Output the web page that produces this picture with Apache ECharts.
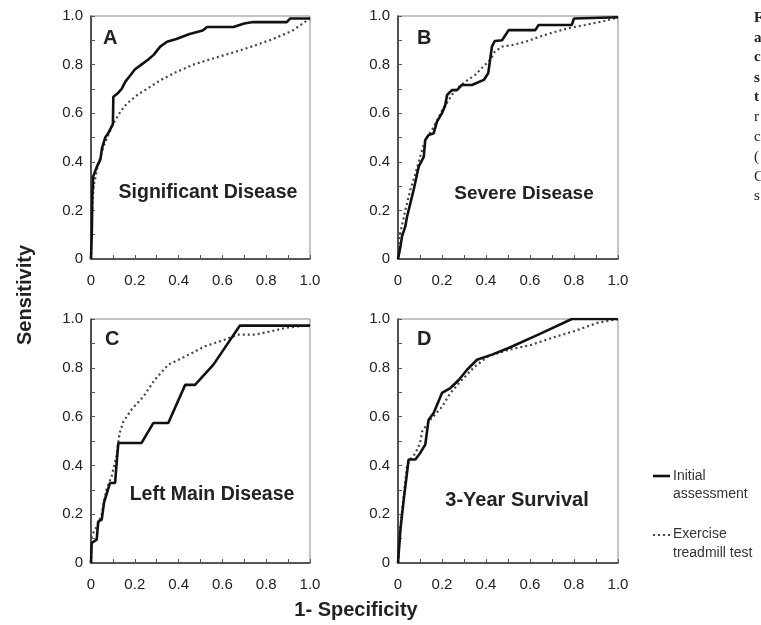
<!DOCTYPE html>
<html>
<head>
<meta charset="utf-8">
<script src="https://cdn.jsdelivr.net/npm/echarts@6/dist/echarts.min.js"></script>
<style>html,body{margin:0;padding:0;background:#fff;}#c{width:761px;height:625px;}</style>
</head>
<body>
<div id="c"></div>
<script>
// ---- Data (x = 1 - specificity, y = sensitivity) ----
var panelTitles = ['Significant Disease', 'Severe Disease', 'Left Main Disease', '3-Year Survival'];
var panelLetters = ['A', 'B', 'C', 'D'];
var seriesNames = ['Initial assessment', 'Exercise treadmill test'];
var tickValues = ['0', '0.2', '0.4', '0.6', '0.8', '1.0'];

var sigInitial = [[0,0],[0.004,0.12],[0.006,0.26],[0.01,0.34],[0.027,0.38],[0.043,0.41],[0.05,0.455],[0.065,0.50],[0.08,0.52],[0.10,0.555],[0.102,0.668],[0.12,0.68],[0.14,0.70],[0.157,0.73],[0.18,0.756],[0.20,0.78],[0.23,0.80],[0.26,0.82],[0.286,0.84],[0.316,0.874],[0.347,0.894],[0.39,0.905],[0.45,0.926],[0.51,0.94],[0.53,0.955],[0.65,0.955],[0.70,0.969],[0.74,0.975],[0.894,0.975],[0.91,0.99],[1.0,0.99]];
var sigTreadmill = [[0,0],[0.005,0.2],[0.012,0.30],[0.03,0.38],[0.06,0.47],[0.10,0.555],[0.134,0.606],[0.164,0.64],[0.21,0.674],[0.255,0.70],[0.316,0.735],[0.39,0.77],[0.468,0.80],[0.56,0.826],[0.65,0.85],[0.74,0.876],[0.83,0.905],[0.92,0.94],[1.0,0.99]];

var sevInitial = [[0,0],[0.011,0.05],[0.018,0.092],[0.033,0.133],[0.041,0.174],[0.056,0.229],[0.071,0.284],[0.094,0.38],[0.117,0.42],[0.124,0.49],[0.139,0.51],[0.162,0.517],[0.177,0.565],[0.20,0.60],[0.215,0.634],[0.223,0.675],[0.245,0.695],[0.268,0.695],[0.29,0.716],[0.336,0.716],[0.39,0.737],[0.41,0.764],[0.427,0.874],[0.44,0.897],[0.473,0.90],[0.503,0.942],[0.624,0.942],[0.639,0.963],[0.79,0.963],[0.80,0.99],[1.0,0.995]];
var sevTreadmill = [[0,0],[0.004,0.08],[0.033,0.20],[0.056,0.284],[0.079,0.35],[0.10,0.42],[0.124,0.49],[0.16,0.54],[0.20,0.61],[0.23,0.654],[0.26,0.695],[0.306,0.73],[0.35,0.757],[0.38,0.785],[0.42,0.82],[0.44,0.853],[0.473,0.874],[0.518,0.88],[0.58,0.894],[0.64,0.914],[0.715,0.935],[0.776,0.95],[0.85,0.963],[0.927,0.977],[1.0,0.995]];

var lmInitial = [[0,0],[0.003,0.082],[0.026,0.096],[0.033,0.17],[0.049,0.178],[0.06,0.25],[0.087,0.328],[0.11,0.328],[0.117,0.41],[0.125,0.492],[0.231,0.492],[0.285,0.574],[0.353,0.574],[0.43,0.73],[0.475,0.73],[0.559,0.813],[0.68,0.973],[1.0,0.973]];
var lmTreadmill = [[0,0],[0.003,0.11],[0.026,0.15],[0.049,0.20],[0.07,0.30],[0.094,0.355],[0.117,0.44],[0.13,0.53],[0.148,0.58],[0.186,0.63],[0.24,0.683],[0.29,0.75],[0.353,0.813],[0.40,0.833],[0.46,0.86],[0.52,0.888],[0.61,0.915],[0.67,0.936],[0.75,0.936],[0.825,0.95],[0.886,0.963],[0.947,0.97],[1.0,0.973]];

var survInitial = [[0,0],[0.011,0.137],[0.026,0.26],[0.041,0.369],[0.048,0.424],[0.079,0.424],[0.10,0.45],[0.124,0.485],[0.139,0.587],[0.162,0.615],[0.20,0.697],[0.238,0.717],[0.276,0.75],[0.314,0.792],[0.359,0.833],[0.427,0.854],[0.503,0.881],[0.655,0.943],[0.79,1.0],[1.0,1.0]];
var survTreadmill = [[0,0],[0.011,0.15],[0.041,0.40],[0.056,0.424],[0.079,0.45],[0.10,0.49],[0.11,0.54],[0.147,0.587],[0.20,0.64],[0.238,0.697],[0.29,0.75],[0.35,0.806],[0.41,0.847],[0.503,0.874],[0.606,0.894],[0.697,0.922],[0.80,0.95],[0.906,0.984],[1.0,1.0]];

var panelData = [[sigInitial, sigTreadmill],[sevInitial, sevTreadmill],[lmInitial, lmTreadmill],[survInitial, survTreadmill]];
var captionLetters = ['F','a','c','s','t','r','c','(','C','s'];

// ---- Layout ----
var grids = [
  {left: 91, top: 16, width: 219, height: 243},
  {left: 398, top: 16, width: 220, height: 243},
  {left: 91, top: 319, width: 219, height: 244},
  {left: 398, top: 319, width: 220, height: 244}
];
var titlePos = [[208, 193], [524, 194], [212, 495], [517, 500]];
var titleSize = [19.5, 19, 19.5, 20];
var letterPos = [[103, 38], [417, 38], [105, 339], [417, 339]];
var FONT = '"Liberation Sans", Arial, Helvetica, sans-serif';

function fmt(v) {
  var k = Math.round(v * 10);
  if (k % 2) return '';
  return tickValues[k / 2];
}

var xAxes = [], yAxes = [], series = [], gridOpts = [], graphics = [];
for (var i = 0; i < 4; i++) {
  gridOpts.push(Object.assign({show: true, borderColor: '#8a8a8a', borderWidth: 1, backgroundColor: 'transparent'}, grids[i]));
  var common = {
    gridIndex: i, type: 'value', min: 0, max: 1, interval: 0.1,
    splitLine: {show: false},
    axisLine: {show: true, onZero: false, lineStyle: {color: '#333', width: 1.6}},
    axisTick: {show: true, inside: true, length: 4, lineStyle: {color: '#555', width: 1}},
    axisLabel: {color: '#222', fontSize: 15, fontFamily: FONT, showMinLabel: true, showMaxLabel: true}
  };
  var xa = JSON.parse(JSON.stringify(common)); xa.axisLabel.formatter = fmt; xa.axisLabel.margin = 14;
  var ya = JSON.parse(JSON.stringify(common)); ya.axisLabel.formatter = fmt; ya.axisLabel.margin = 8;
  xAxes.push(xa); yAxes.push(ya);
  series.push({
    name: seriesNames[1], type: 'line', xAxisIndex: i, yAxisIndex: i, data: panelData[i][1],
    showSymbol: false, symbol: 'none', z: 2, animation: false,
    lineStyle: {color: '#444', width: 2.2, type: [2, 3]}
  });
  series.push({
    name: seriesNames[0], type: 'line', xAxisIndex: i, yAxisIndex: i, data: panelData[i][0],
    showSymbol: false, symbol: 'none', z: 3, animation: false,
    lineStyle: {color: '#111', width: 2.6}
  });
  graphics.push({type: 'text', x: titlePos[i][0], y: titlePos[i][1],
    style: {text: panelTitles[i], fill: '#222', font: 'bold ' + titleSize[i] + 'px ' + FONT, textAlign: 'center', textVerticalAlign: 'middle'}});
  graphics.push({type: 'text', x: letterPos[i][0], y: letterPos[i][1],
    style: {text: panelLetters[i], fill: '#222', font: 'bold 20px ' + FONT, textAlign: 'left', textVerticalAlign: 'middle'}});
}

// axis titles
graphics.push({type: 'text', x: 25, y: 295, rotation: Math.PI / 2,
  style: {text: 'Sensitivity', fill: '#222', font: 'bold 20px ' + FONT, textAlign: 'center', textVerticalAlign: 'middle'}});
graphics.push({type: 'text', x: 356, y: 610,
  style: {text: '1- Specificity', fill: '#222', font: 'bold 20px ' + FONT, textAlign: 'center', textVerticalAlign: 'middle'}});

// legend
graphics.push({type: 'line', shape: {x1: 653, y1: 476, x2: 670, y2: 476}, style: {stroke: '#111', lineWidth: 2.6}});
graphics.push({type: 'text', x: 673, y: 476, style: {text: 'Initial', fill: '#333', font: '14px ' + FONT, textVerticalAlign: 'middle'}});
graphics.push({type: 'text', x: 673, y: 494, style: {text: 'assessment', fill: '#333', font: '14px ' + FONT, textVerticalAlign: 'middle'}});
graphics.push({type: 'line', shape: {x1: 653, y1: 535, x2: 670, y2: 535}, style: {stroke: '#444', lineWidth: 2, lineDash: [2, 3]}});
graphics.push({type: 'text', x: 673, y: 534, style: {text: 'Exercise', fill: '#333', font: '14px ' + FONT, textVerticalAlign: 'middle'}});
graphics.push({type: 'text', x: 673, y: 553, style: {text: 'treadmill test', fill: '#333', font: '14px ' + FONT, textVerticalAlign: 'middle'}});

// clipped caption fragment at right edge
var capY = [18, 38, 57, 78, 97, 117, 137, 157, 177, 196];
for (var j = 0; j < captionLetters.length; j++) {
  graphics.push({type: 'text', x: 754, y: capY[j],
    style: {text: captionLetters[j], fill: '#222', font: (j < 5 ? 'bold ' : '') + '15px "Liberation Serif", "Times New Roman", serif', textVerticalAlign: 'middle'}});
}

var chart = echarts.init(document.getElementById('c'), null, {renderer: 'canvas'});
chart.setOption({
  backgroundColor: '#fff',
  animation: false,
  grid: gridOpts,
  xAxis: xAxes,
  yAxis: yAxes,
  series: series,
  graphic: graphics
});
</script>
</body>
</html>
